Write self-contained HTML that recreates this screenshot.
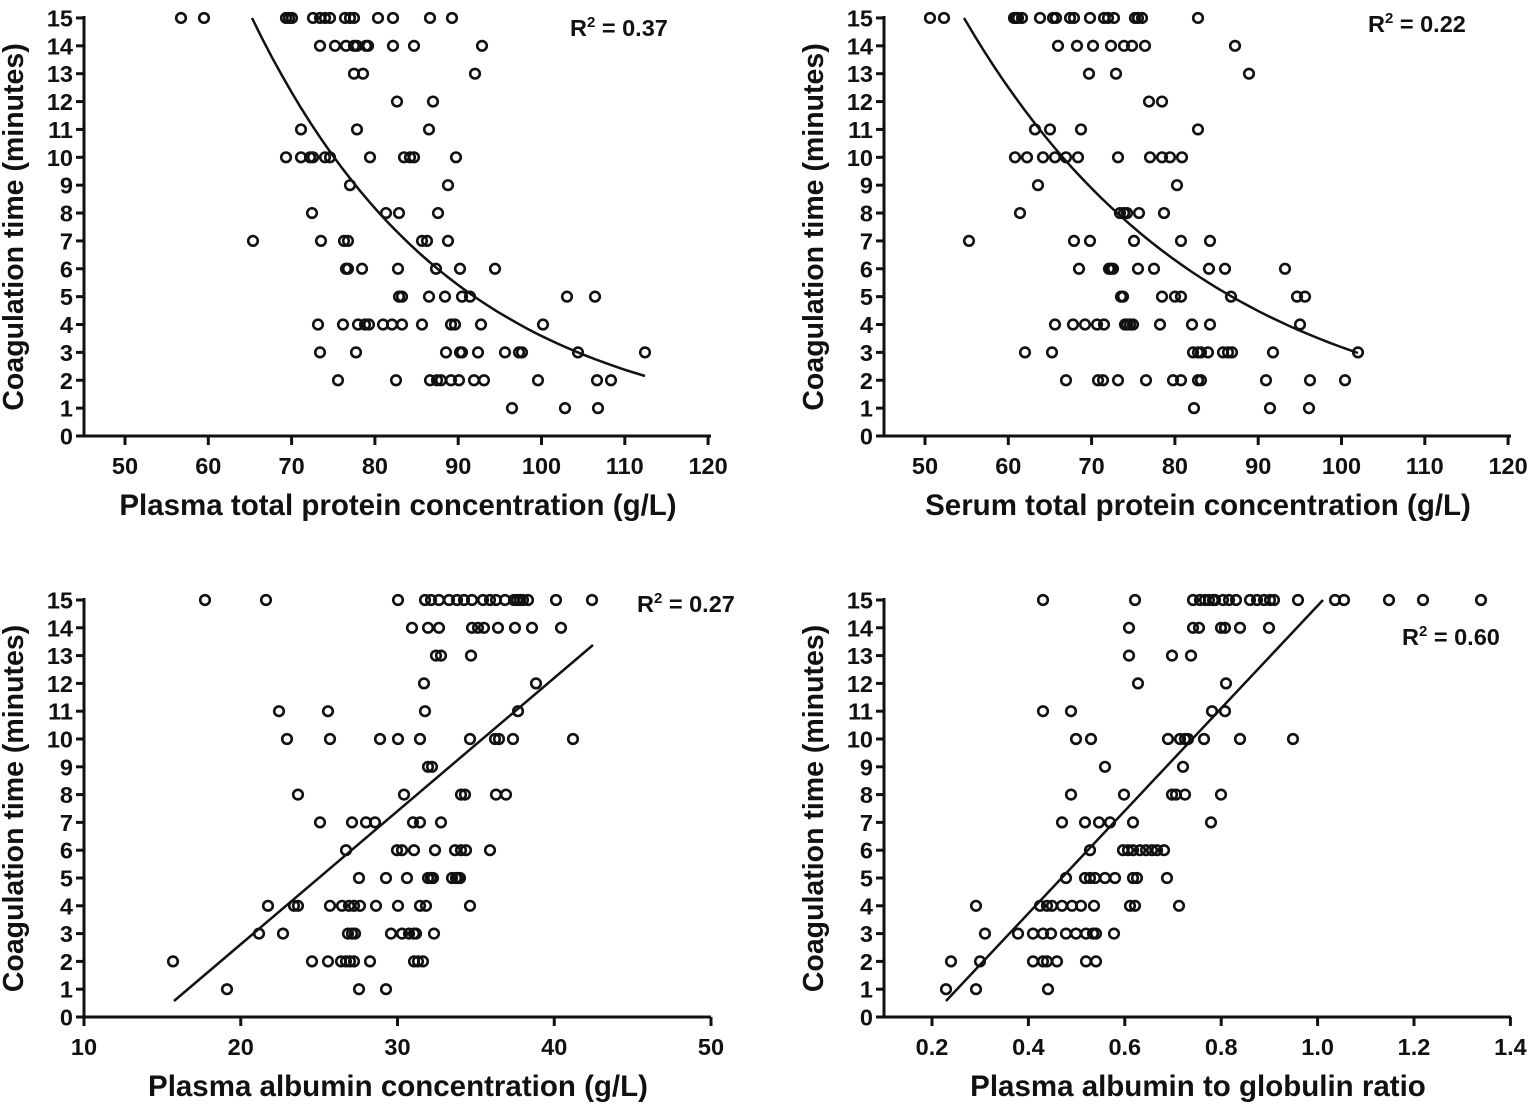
<!DOCTYPE html>
<html><head><meta charset="utf-8"><style>
body{margin:0;background:#fff}
svg{display:block}
text{font-family:"Liberation Sans",Arial,sans-serif;font-weight:bold;fill:#111}
</style></head><body>
<svg id="s" width="1535" height="1108" xmlns="http://www.w3.org/2000/svg"></svg>
<script>
const s=document.getElementById('s');let h='';
function panel(ax,y0,unit,xt,ylab,xlab,pts,curve,r2){
  const ay=y0;
  h+=`<line x1="${ax}" y1="${ay+1.5}" x2="${ax}" y2="${y0-15*unit-2}" stroke="#111" stroke-width="3"/>`;
  h+=`<line x1="${ax-8}" y1="${ay}" x2="${ax+627}" y2="${ay}" stroke="#111" stroke-width="3"/>`;
  for(let i=0;i<=15;i++){const y=y0-i*unit;
    h+=`<line x1="${ax-8}" y1="${y}" x2="${ax}" y2="${y}" stroke="#111" stroke-width="3"/>`;
    h+=`<text x="${ax-11}" y="${y+8.5}" font-size="23.5" text-anchor="end">${i}</text>`;}
  for(const [px,l] of xt){
    h+=`<line x1="${px}" y1="${ay}" x2="${px}" y2="${ay+9}" stroke="#111" stroke-width="3"/>`;
    h+=`<text x="${px}" y="${ay+38}" font-size="23.5" text-anchor="middle">${l}</text>`;}
  h+=`<text x="${ax+314}" y="${ay+79}" font-size="29.5" text-anchor="middle">${xlab}</text>`;
  const cy=y0-7.5*unit;
  h+=`<text transform="translate(${ax-61},${cy}) rotate(-90)" font-size="28.5" text-anchor="middle">${ylab}</text>`;
  h+=`<path d="${curve}" fill="none" stroke="#111" stroke-width="2.5"/>`;
  for(let i=0;i<pts.length;i++){const yy=y0-(15-i)*unit;
    for(const x of pts[i]) h+=`<circle cx="${x}" cy="${yy}" r="4.8" fill="none" stroke="#111" stroke-width="2.6"/>`;}
  h+=`<text x="${r2[0]}" y="${r2[1]}" font-size="23.5">R<tspan dy="-9" font-size="15">2</tspan><tspan dy="9"> = ${r2[2]}</tspan></text>`;
}
function expCurve(x1,y1,x2,y2,y0,unit){
  const v1=(y0-y1)/unit,v2=(y0-y2)/unit;let d='';
  for(let i=0;i<=40;i++){const t=i/40;const x=x1+(x2-x1)*t;const v=Math.exp(Math.log(v1)+(Math.log(v2)-Math.log(v1))*t);
    d+=(i?'L':'M')+x.toFixed(1)+','+(y0-v*unit).toFixed(1);}
  return d;
}
const U=27.87;
const lab='Coagulation time (minutes)';
const xt1=[];for(let i=0;i<8;i++)xt1.push([125+i*83.3,50+i*10]);
const xt2=xt1.map(a=>[a[0]+800,a[1]]);
const xt3=[];for(let i=0;i<5;i++)xt3.push([84+i*156.75,10+i*10]);
const xt4=[];for(let i=0;i<7;i++)xt4.push([932+i*96.4,(0.2+i*0.2).toFixed(1)]);
panel(84,436,U,xt1,lab,'Plasma total protein concentration (g/L)',[
[181,204,286,289,292,313,320,325,330,345,350,354,378,393,430,452],
[320,335,346,354,357,366,368,393,414,482],
[354,363,475],[397,433],[301,357,429],
[286,301,310,313,325,330,370,404,410,414,456],
[350,448],[312,386,399,438],
[253,321,344,348,422,427,448],
[346,348,362,398,436,460,495],
[399,402,429,445,462,470,567,595],
[318,343,358,365,369,383,392,402,422,451,455,481,543],
[320,356,446,460,462,478,505,519,522,578,645],
[338,396,430,437,441,451,459,474,484,538,597,611],
[512,565,598]],expCurve(252,18,645,376,436,U),[570,36,'0.37']);
panel(884,436,U,xt2,lab,'Serum total protein concentration (g/L)',[
[930,944,1014,1016,1018,1022,1040,1053,1056,1070,1074,1090,1104,1108,1114,1135,1138,1142,1198],
[1058,1077,1093,1111,1124,1132,1145,1235],
[1089,1116,1249],[1149,1162],[1035,1050,1081,1198],
[1015,1027,1043,1055,1066,1078,1118,1150,1162,1170,1182],
[1038,1177],[1020,1120,1124,1127,1139,1164],
[969,1074,1090,1134,1181,1210],
[1079,1109,1111,1113,1138,1154,1209,1225,1285],
[1121,1123,1162,1175,1181,1231,1297,1305],
[1055,1073,1085,1097,1104,1125,1127,1130,1133,1160,1192,1210,1300],
[1025,1052,1193,1198,1201,1208,1223,1228,1232,1273,1358],
[1066,1098,1103,1118,1146,1173,1181,1198,1201,1266,1310,1345],
[1194,1270,1309]],expCurve(964,18,1358,353,436,U),[1368,32,'0.22']);
const U2=27.8;
panel(84,1017,U2,xt3,lab,'Plasma albumin concentration (g/L)',[
[205,266,398,425,431,439,449,457,464,472,483,490,496,505,514,517,520,523,528,556,592],
[412,428,439,472,478,484,498,515,532,561],
[436,441,471],[424,536],[279,328,425,518],
[287,330,380,398,420,470,495,499,513,573],
[428,432],[298,404,461,465,496,506],
[320,352,366,375,413,420,441],
[346,397,402,414,435,455,461,466,490],
[359,386,407,428,431,433,452,456,458,460],
[268,294,298,330,342,349,354,360,376,398,420,426,470],
[259,283,348,352,355,391,402,409,414,416,434],
[173,312,328,341,346,350,354,370,414,418,423],
[227,359,386]],'M174,1001L593,645',[637,612,'0.27']);
panel(884,1017,U2,xt4,lab,'Plasma albumin to globulin ratio',[
[1043,1135,1193,1200,1205,1209,1213,1215,1223,1229,1236,1250,1257,1264,1270,1274,1298,1335,1344,1389,1423,1481],
[1129,1193,1199,1221,1225,1240,1269],
[1129,1172,1191],[1138,1226],[1043,1071,1212,1225],
[1076,1091,1168,1180,1185,1188,1204,1240,1293],
[1105,1183],[1071,1124,1172,1176,1185,1221],
[1062,1085,1099,1110,1133,1211],
[1090,1123,1128,1133,1140,1146,1152,1157,1164],
[1066,1085,1090,1095,1105,1115,1133,1137,1167],
[976,1040,1047,1052,1062,1072,1081,1094,1130,1135,1179],
[985,1018,1033,1043,1051,1066,1076,1086,1093,1096,1114],
[951,980,1033,1043,1047,1057,1086,1096],
[946,976,1048]],'M946,1001L1323,600',[1402,645,'0.60']);
s.innerHTML=h;
</script>
</body></html>
